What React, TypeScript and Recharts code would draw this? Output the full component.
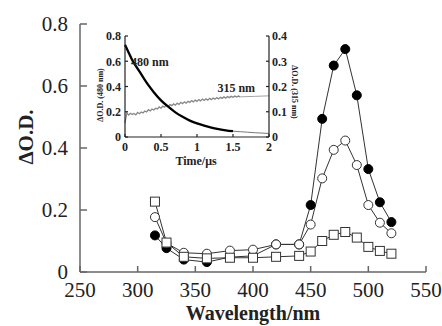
import React from 'react';
import { LineChart, Line, XAxis, YAxis, ReferenceDot } from 'recharts';

const FONT = 'Liberation Serif';

// ---- main spectrum data ----
const wavelengths = [315, 325, 340, 360, 380, 400, 420, 440, 450, 460, 470, 480, 490, 500, 510, 520];
const filledCircles = [0.118, 0.077, 0.040, 0.032, 0.048, 0.052, 0.089, 0.089, 0.216, 0.494, 0.666, 0.719, 0.570, 0.332, 0.225, 0.161];
const openCircles = [0.177, 0.093, 0.062, 0.059, 0.069, 0.072, 0.089, 0.089, 0.153, 0.302, 0.394, 0.424, 0.345, 0.216, 0.159, 0.125];
const openSquares = [0.227, 0.095, 0.049, 0.044, 0.046, 0.046, 0.049, 0.052, 0.066, 0.100, 0.120, 0.129, 0.111, 0.081, 0.068, 0.059];
const xTicks = [250, 300, 350, 400, 450, 500, 550];
const yTicks = [0, 0.2, 0.4, 0.6, 0.8];

// ---- inset kinetics data ----
const decayTime = [0, 0.05, 0.1, 0.2, 0.3, 0.4, 0.5, 0.6, 0.7, 0.8, 0.9, 1.0, 1.1, 1.2, 1.3, 1.4, 1.5];
const decay480 = [0.73, 0.67, 0.61, 0.52, 0.43, 0.355, 0.29, 0.24, 0.195, 0.16, 0.13, 0.108, 0.09, 0.075, 0.063, 0.053, 0.046];
const decayTailTime = [1.5, 1.6, 1.7, 1.8, 1.9, 2.0];
const decayTail480 = [0.046, 0.042, 0.038, 0.034, 0.031, 0.028];
const riseTime = [
  0, 0.025, 0.05, 0.075, 0.1, 0.125, 0.15, 0.175, 0.2, 0.225, 0.25, 0.275, 0.3, 0.325, 0.35, 0.375,
  0.4, 0.425, 0.45, 0.475, 0.5, 0.525, 0.55, 0.575, 0.6, 0.625, 0.65, 0.675, 0.7, 0.725, 0.75, 0.775,
  0.8, 0.825, 0.85, 0.875, 0.9, 0.925, 0.95, 0.975, 1.0, 1.025, 1.05, 1.075, 1.1, 1.125, 1.15, 1.175,
  1.2, 1.225, 1.25, 1.275, 1.3, 1.325, 1.35, 1.375, 1.4, 1.425, 1.45, 1.475, 1.5, 1.525, 1.55, 1.575, 1.6,
];
const rise315 = [
  0.055, 0.096, 0.087, 0.094, 0.089, 0.093, 0.088, 0.097, 0.092, 0.099, 0.095, 0.103, 0.099, 0.108, 0.103, 0.111,
  0.107, 0.114, 0.111, 0.119, 0.114, 0.122, 0.118, 0.126, 0.121, 0.128, 0.124, 0.131, 0.126, 0.134, 0.129, 0.137,
  0.132, 0.139, 0.134, 0.141, 0.137, 0.144, 0.139, 0.146, 0.141, 0.148, 0.143, 0.150, 0.145, 0.151, 0.146, 0.153,
  0.148, 0.154, 0.150, 0.156, 0.151, 0.157, 0.153, 0.159, 0.154, 0.160, 0.156, 0.161, 0.157, 0.162, 0.158, 0.162, 0.159,
];
const riseTailTime = [1.6, 1.8, 2.0];
const riseTail315 = [0.159, 0.161, 0.163];
const insetXTicks = [0, 0.5, 1, 1.5, 2];
const insetLeftTicks = [0, 0.2, 0.4, 0.6, 0.8];
const insetRightTicks = [0, 0.1, 0.2, 0.3, 0.4];

const mainData = wavelengths.map((w, i) => ({
  w,
  filled: filledCircles[i],
  open: openCircles[i],
  square: openSquares[i],
}));
const decayData = decayTime.map((t, i) => ({ t, v: decay480[i] }));
const decayTailData = decayTailTime.map((t, i) => ({ t, v: decayTail480[i] }));
const riseData = riseTime.map((t, i) => ({ t, v: rise315[i] }));
const riseTailData = riseTailTime.map((t, i) => ({ t, v: riseTail315[i] }));

const AXIS = '#666';
const LINE = '#333';

const SquareDot = (p: any) => (
  <rect key={`sq-${p.index}`} x={p.cx - 4.5} y={p.cy - 4.5} width={9} height={9} fill="#fff" stroke={LINE} strokeWidth={1} />
);

const tStyle = (size: number, bold: boolean) => ({ fontFamily: FONT, fontSize: size, fontWeight: bold ? 'bold' : 'normal' });

const MainYTitle = () => (
  <text x={26} y={137} transform="rotate(-90, 26, 137)" textAnchor="middle" dominantBaseline="central"
    style={tStyle(21, true)} fill="#222">ΔO.D.</text>
);
const MainXTitle = () => (
  <text x={253} y={320} textAnchor="middle" style={tStyle(20, true)} fill="#222">Wavelength/nm</text>
);
const InsetLeftTitle = () => (
  <text x={5} y={70} transform="rotate(-90, 5, 70)" textAnchor="middle" dominantBaseline="central"
    style={tStyle(8, true)} fill="#222">ΔO.D. (480 nm)</text>
);
const InsetRightTitle = () => (
  <text x={199} y={67} transform="rotate(90, 199, 67)" textAnchor="middle" dominantBaseline="central"
    style={tStyle(8, true)} fill="#222">ΔO.D. (315 nm)</text>
);
const InsetXTitle = () => (
  <text x={101} y={140} textAnchor="middle" style={tStyle(12, true)} fill="#222">Time/μs</text>
);

export default function App() {
  const mainTick = { style: tStyle(21, false), fill: '#222' };
  const insetTick = { style: tStyle(12, true), fill: '#222' };
  return (
    <div style={{ position: 'absolute', left: 0, top: 0, width: 442, height: 326, background: '#fff', fontFamily: FONT }}>
      <div style={{ position: 'absolute', left: 0, top: 0 }}>
        <LineChart width={442} height={326} data={mainData} margin={{ top: 24, right: 16, bottom: 0, left: 0 }}
          style={{ fontFamily: FONT }}>
          <XAxis dataKey="w" type="number" domain={[250, 550]} ticks={xTicks} height={54}
            stroke={AXIS} strokeWidth={1.5} tickSize={-6} tickMargin={16} tick={mainTick}
            label={{ content: MainXTitle }} />
          <XAxis xAxisId="top" orientation="top" dataKey="w" type="number" domain={[250, 550]} height={0}
            stroke={AXIS} strokeWidth={1.5} tick={false} tickLine={false} />
          <YAxis type="number" domain={[0, 0.8]} ticks={yTicks} width={80}
            stroke={AXIS} strokeWidth={1.5} tickSize={-7} tickMargin={19} tick={mainTick}
            label={{ content: MainYTitle }} />
          <YAxis yAxisId="right" orientation="right" type="number" domain={[0, 0.8]} width={0}
            stroke={AXIS} strokeWidth={1.5} tick={false} tickLine={false} />
          <Line dataKey="filled" stroke={LINE} strokeWidth={1} isAnimationActive={false}
            dot={{ r: 4.5, fill: '#000', stroke: '#000', strokeWidth: 1 }} />
          <Line dataKey="open" stroke={LINE} strokeWidth={1} isAnimationActive={false}
            dot={{ r: 4.5, fill: '#fff', stroke: LINE, strokeWidth: 1 }} />
          <Line dataKey="square" stroke={LINE} strokeWidth={1} isAnimationActive={false} dot={SquareDot} />
        </LineChart>
      </div>
      <div style={{ position: 'absolute', left: 95, top: 25 }}>
        <LineChart width={210} height={145} margin={{ top: 11, right: 0, bottom: 0, left: 0 }}
          style={{ fontFamily: FONT }}>
          <XAxis dataKey="t" type="number" domain={[0, 2]} ticks={insetXTicks} height={33}
            allowDuplicatedCategory={false}
            stroke="#222" strokeWidth={1.2} tickSize={-3} tickMargin={8} tick={insetTick}
            label={{ content: InsetXTitle }} />
          <XAxis xAxisId="top" orientation="top" dataKey="t" type="number" domain={[0, 2]} height={0}
            stroke="#222" strokeWidth={1.2} tick={false} tickLine={false} />
          <YAxis yAxisId="l" type="number" domain={[0, 0.8]} ticks={insetLeftTicks} width={30}
            stroke="#222" strokeWidth={1.2} tickSize={-3} tickMargin={7} tick={insetTick}
            label={{ content: InsetLeftTitle }} />
          <YAxis yAxisId="r" orientation="right" type="number" domain={[0, 0.4]} ticks={insetRightTicks} width={36}
            stroke="#222" strokeWidth={1.2} tickSize={-3} tickMargin={6} tick={insetTick}
            label={{ content: InsetRightTitle }} />
          <Line data={riseData} dataKey="v" yAxisId="r" stroke="#888" strokeWidth={1.3} dot={false} isAnimationActive={false} />
          <Line data={riseTailData} dataKey="v" yAxisId="r" stroke="#999" strokeWidth={0.9} dot={false} isAnimationActive={false} />
          <Line data={decayTailData} dataKey="v" yAxisId="l" type="monotone" stroke="#777" strokeWidth={1} dot={false} isAnimationActive={false} />
          <Line data={decayData} dataKey="v" yAxisId="l" type="monotone" stroke="#000" strokeWidth={2.3} dot={false} isAnimationActive={false} />
          <ReferenceDot yAxisId="l" x={0.07} y={0.595} r={0} fill="none" stroke="none"
            label={{ value: '480 nm', position: 'right', offset: 1, style: tStyle(12, true), fill: '#222' }} />
          <ReferenceDot yAxisId="r" x={1.27} y={0.194} r={0} fill="none" stroke="none"
            label={{ value: '315 nm', position: 'right', offset: 1, style: tStyle(12, true), fill: '#222' }} />
        </LineChart>
      </div>
    </div>
  );
}
